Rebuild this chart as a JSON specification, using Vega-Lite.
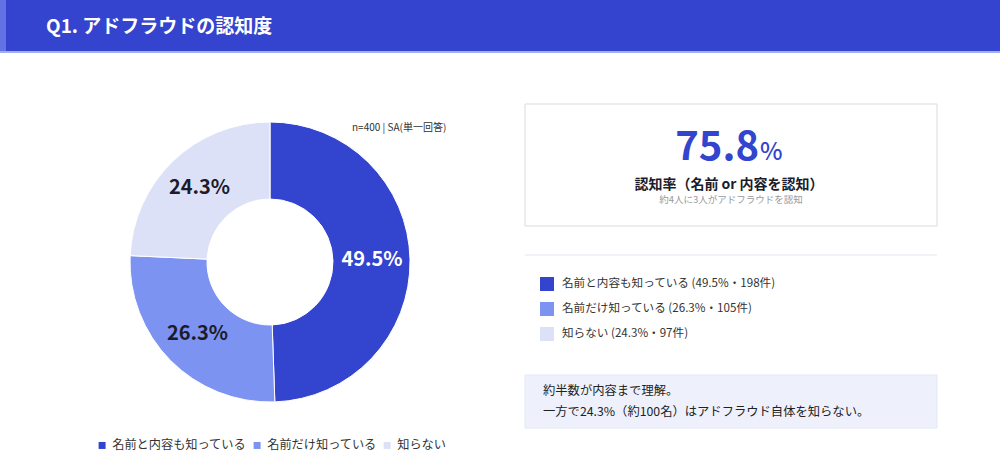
{
  "$schema": "https://vega.github.io/schema/vega-lite/v6.json",
  "width": 1000,
  "height": 452,
  "autosize": {"type": "fit", "contains": "padding"},
  "padding": 0,
  "background": "white",
  "config": {
    "view": {"stroke": null},
    "font": "Noto Sans CJK JP",
    "text": {"font": "Noto Sans CJK JP"}
  },
  "data": {
    "values": [
      {"category": "名前と内容も知っている", "pct": 0.495, "count": 198},
      {"category": "名前だけ知っている", "pct": 0.263, "count": 105},
      {"category": "知らない", "pct": 0.243, "count": 97}
    ]
  },
  "layer": [
    {
      "data": {"values": [{}]},
      "mark": {"type": "rect", "fill": "#3444CE"},
      "encoding": {
        "x": {"datum": 0, "scale": {"type": "linear", "domain": [0, 1000], "nice": false, "zero": false}, "axis": null},
        "x2": {"datum": 1000},
        "y": {"datum": 0, "scale": {"type": "linear", "domain": [0, 452], "nice": false, "zero": false, "reverse": true}, "axis": null},
        "y2": {"datum": 51}
      }
    },
    {
      "data": {"values": [{}]},
      "mark": {"type": "rect", "fill": "#6272E4"},
      "encoding": {
        "x": {"datum": 0, "scale": {"type": "linear", "domain": [0, 1000], "nice": false, "zero": false}, "axis": null},
        "x2": {"datum": 6},
        "y": {"datum": 0, "scale": {"type": "linear", "domain": [0, 452], "nice": false, "zero": false, "reverse": true}, "axis": null},
        "y2": {"datum": 51}
      }
    },
    {
      "data": {"values": [{}]},
      "mark": {"type": "rect", "fill": "#A3AEF0"},
      "encoding": {
        "x": {"datum": 0, "scale": {"type": "linear", "domain": [0, 1000], "nice": false, "zero": false}, "axis": null},
        "x2": {"datum": 1000},
        "y": {"datum": 51, "scale": {"type": "linear", "domain": [0, 452], "nice": false, "zero": false, "reverse": true}, "axis": null},
        "y2": {"datum": 53}
      }
    },
    {
      "data": {"values": [{"t": "Q1. アドフラウドの認知度"}]},
      "mark": {"type": "text", "align": "left", "baseline": "middle", "fontSize": 19, "fontWeight": "bold", "color": "white"},
      "encoding": {
        "x": {"datum": 46, "scale": {"type": "linear", "domain": [0, 1000], "nice": false, "zero": false}, "axis": null},
        "y": {"datum": 27, "scale": {"type": "linear", "domain": [0, 452], "nice": false, "zero": false, "reverse": true}, "axis": null},
        "text": {"field": "t"}
      }
    },
    {
      "data": {"values": [{"t": "n=400 | SA(単一回答)"}]},
      "mark": {"type": "text", "align": "left", "baseline": "middle", "fontSize": 10, "color": "#333333"},
      "encoding": {
        "x": {"datum": 352, "scale": {"type": "linear", "domain": [0, 1000], "nice": false, "zero": false}, "axis": null},
        "y": {"datum": 128, "scale": {"type": "linear", "domain": [0, 452], "nice": false, "zero": false, "reverse": true}, "axis": null},
        "text": {"field": "t"}
      }
    },
    {
      "mark": {"type": "arc", "innerRadius": 63, "outerRadius": 140, "stroke": "white", "strokeWidth": 1},
      "encoding": {
        "x": {"datum": 270, "scale": {"type": "linear", "domain": [0, 1000], "nice": false, "zero": false}, "axis": null},
        "y": {"datum": 262, "scale": {"type": "linear", "domain": [0, 452], "nice": false, "zero": false, "reverse": true}, "axis": null},
        "theta": {"field": "pct", "type": "quantitative", "stack": true},
        "order": {"field": "count", "sort": "descending"},
        "color": {
          "field": "category",
          "type": "nominal",
          "sort": ["名前と内容も知っている", "名前だけ知っている", "知らない"],
          "scale": {"domain": ["名前と内容も知っている", "名前だけ知っている", "知らない"], "range": ["#3344CE", "#7C93F2", "#DDE1F7"]},
          "legend": {
            "orient": "none",
            "legendX": 96,
            "legendY": 439,
            "direction": "horizontal",
            "title": null,
            "symbolType": "square",
            "symbolSize": 49,
            "symbolStrokeWidth": 0,
            "symbolOpacity": 1,
            "labelFont": "Noto Sans CJK JP",
            "labelFontSize": 12.2,
            "labelColor": "#333333",
            "labelOffset": 4,
            "columnPadding": 4,
            "labelLimit": 400,
            "padding": 0
          }
        }
      }
    },
    {
      "mark": {"type": "text", "radius": 102, "fontSize": 20, "fontWeight": "bold", "align": "center", "baseline": "middle"},
      "encoding": {
        "x": {"datum": 270, "scale": {"type": "linear", "domain": [0, 1000], "nice": false, "zero": false}, "axis": null},
        "y": {"datum": 262, "scale": {"type": "linear", "domain": [0, 452], "nice": false, "zero": false, "reverse": true}, "axis": null},
        "theta": {"field": "pct", "type": "quantitative", "stack": true},
        "order": {"field": "count", "sort": "descending"},
        "text": {"field": "pct", "type": "quantitative", "format": ".1%"},
        "color": {"condition": {"test": "datum.category === '名前と内容も知っている'", "value": "white"}, "value": "#1B1B2B"}
      }
    },
    {
      "data": {"values": [{}]},
      "mark": {"type": "rect", "fill": "white", "stroke": "#DADBE2", "strokeWidth": 1},
      "encoding": {
        "x": {"datum": 525, "scale": {"type": "linear", "domain": [0, 1000], "nice": false, "zero": false}, "axis": null},
        "x2": {"datum": 937},
        "y": {"datum": 104, "scale": {"type": "linear", "domain": [0, 452], "nice": false, "zero": false, "reverse": true}, "axis": null},
        "y2": {"datum": 226}
      }
    },
    {
      "data": {"values": [{"t": "75.8"}]},
      "mark": {"type": "text", "align": "right", "baseline": "alphabetic", "fontSize": 40, "fontWeight": "bold", "color": "#3344CE"},
      "encoding": {
        "x": {"datum": 759, "scale": {"type": "linear", "domain": [0, 1000], "nice": false, "zero": false}, "axis": null},
        "y": {"datum": 160, "scale": {"type": "linear", "domain": [0, 452], "nice": false, "zero": false, "reverse": true}, "axis": null},
        "text": {"field": "t"}
      }
    },
    {
      "data": {"values": [{"t": "%"}]},
      "mark": {"type": "text", "align": "left", "baseline": "alphabetic", "fontSize": 24, "fontWeight": 500, "color": "#3344CE"},
      "encoding": {
        "x": {"datum": 760, "scale": {"type": "linear", "domain": [0, 1000], "nice": false, "zero": false}, "axis": null},
        "y": {"datum": 160, "scale": {"type": "linear", "domain": [0, 452], "nice": false, "zero": false, "reverse": true}, "axis": null},
        "text": {"field": "t"}
      }
    },
    {
      "data": {"values": [{"t": "認知率（名前 or 内容を認知）"}]},
      "mark": {"type": "text", "align": "center", "baseline": "middle", "fontSize": 14, "fontWeight": "bold", "color": "#1B1B2B"},
      "encoding": {
        "x": {"datum": 729, "scale": {"type": "linear", "domain": [0, 1000], "nice": false, "zero": false}, "axis": null},
        "y": {"datum": 185, "scale": {"type": "linear", "domain": [0, 452], "nice": false, "zero": false, "reverse": true}, "axis": null},
        "text": {"field": "t"}
      }
    },
    {
      "data": {"values": [{"t": "約4人に3人がアドフラウドを認知"}]},
      "mark": {"type": "text", "align": "center", "baseline": "middle", "fontSize": 9.5, "color": "#999999"},
      "encoding": {
        "x": {"datum": 731, "scale": {"type": "linear", "domain": [0, 1000], "nice": false, "zero": false}, "axis": null},
        "y": {"datum": 200, "scale": {"type": "linear", "domain": [0, 452], "nice": false, "zero": false, "reverse": true}, "axis": null},
        "text": {"field": "t"}
      }
    },
    {
      "data": {"values": [{}]},
      "mark": {"type": "rule", "stroke": "#E3E6F3", "strokeWidth": 1},
      "encoding": {
        "x": {"datum": 525, "scale": {"type": "linear", "domain": [0, 1000], "nice": false, "zero": false}, "axis": null},
        "x2": {"datum": 937},
        "y": {"datum": 255, "scale": {"type": "linear", "domain": [0, 452], "nice": false, "zero": false, "reverse": true}, "axis": null}
      }
    },
    {
      "transform": [{"filter": "datum.category === '名前と内容も知っている'"}, {"calculate": "datum.category + ' (' + format(datum.pct, '.1%') + '・' + datum.count + '件)'", "as": "label"}],
      "layer": [
        {
          "mark": {"type": "square", "size": 196, "filled": true, "opacity": 1},
          "encoding": {
            "x": {"datum": 547, "scale": {"type": "linear", "domain": [0, 1000], "nice": false, "zero": false}, "axis": null},
            "y": {"datum": 284, "scale": {"type": "linear", "domain": [0, 452], "nice": false, "zero": false, "reverse": true}, "axis": null},
            "color": {"field": "category", "type": "nominal"}
          }
        },
        {
          "mark": {"type": "text", "align": "left", "baseline": "middle", "fontSize": 11.6, "color": "#333333"},
          "encoding": {
            "x": {"datum": 562, "scale": {"type": "linear", "domain": [0, 1000], "nice": false, "zero": false}, "axis": null},
            "y": {"datum": 284, "scale": {"type": "linear", "domain": [0, 452], "nice": false, "zero": false, "reverse": true}, "axis": null},
            "text": {"field": "label"}
          }
        }
      ]
    },
    {
      "transform": [{"filter": "datum.category === '名前だけ知っている'"}, {"calculate": "datum.category + ' (' + format(datum.pct, '.1%') + '・' + datum.count + '件)'", "as": "label"}],
      "layer": [
        {
          "mark": {"type": "square", "size": 196, "filled": true, "opacity": 1},
          "encoding": {
            "x": {"datum": 547, "scale": {"type": "linear", "domain": [0, 1000], "nice": false, "zero": false}, "axis": null},
            "y": {"datum": 309, "scale": {"type": "linear", "domain": [0, 452], "nice": false, "zero": false, "reverse": true}, "axis": null},
            "color": {"field": "category", "type": "nominal"}
          }
        },
        {
          "mark": {"type": "text", "align": "left", "baseline": "middle", "fontSize": 11.6, "color": "#333333"},
          "encoding": {
            "x": {"datum": 562, "scale": {"type": "linear", "domain": [0, 1000], "nice": false, "zero": false}, "axis": null},
            "y": {"datum": 309, "scale": {"type": "linear", "domain": [0, 452], "nice": false, "zero": false, "reverse": true}, "axis": null},
            "text": {"field": "label"}
          }
        }
      ]
    },
    {
      "transform": [{"filter": "datum.category === '知らない'"}, {"calculate": "datum.category + ' (' + format(datum.pct, '.1%') + '・' + datum.count + '件)'", "as": "label"}],
      "layer": [
        {
          "mark": {"type": "square", "size": 196, "filled": true, "opacity": 1},
          "encoding": {
            "x": {"datum": 547, "scale": {"type": "linear", "domain": [0, 1000], "nice": false, "zero": false}, "axis": null},
            "y": {"datum": 334, "scale": {"type": "linear", "domain": [0, 452], "nice": false, "zero": false, "reverse": true}, "axis": null},
            "color": {"field": "category", "type": "nominal"}
          }
        },
        {
          "mark": {"type": "text", "align": "left", "baseline": "middle", "fontSize": 11.6, "color": "#333333"},
          "encoding": {
            "x": {"datum": 562, "scale": {"type": "linear", "domain": [0, 1000], "nice": false, "zero": false}, "axis": null},
            "y": {"datum": 334, "scale": {"type": "linear", "domain": [0, 452], "nice": false, "zero": false, "reverse": true}, "axis": null},
            "text": {"field": "label"}
          }
        }
      ]
    },
    {
      "data": {"values": [{}]},
      "mark": {"type": "rect", "fill": "#EEF1FC", "stroke": "#E3E7F7", "strokeWidth": 1},
      "encoding": {
        "x": {"datum": 525, "scale": {"type": "linear", "domain": [0, 1000], "nice": false, "zero": false}, "axis": null},
        "x2": {"datum": 937},
        "y": {"datum": 375, "scale": {"type": "linear", "domain": [0, 452], "nice": false, "zero": false, "reverse": true}, "axis": null},
        "y2": {"datum": 428}
      }
    },
    {
      "data": {"values": [{"t": "約半数が内容まで理解。"}]},
      "mark": {"type": "text", "align": "left", "baseline": "middle", "fontSize": 12.3, "color": "#222222"},
      "encoding": {
        "x": {"datum": 543, "scale": {"type": "linear", "domain": [0, 1000], "nice": false, "zero": false}, "axis": null},
        "y": {"datum": 391, "scale": {"type": "linear", "domain": [0, 452], "nice": false, "zero": false, "reverse": true}, "axis": null},
        "text": {"field": "t"}
      }
    },
    {
      "data": {"values": [{"t": "一方で24.3%（約100名）はアドフラウド自体を知らない。"}]},
      "mark": {"type": "text", "align": "left", "baseline": "middle", "fontSize": 12.3, "color": "#222222"},
      "encoding": {
        "x": {"datum": 543, "scale": {"type": "linear", "domain": [0, 1000], "nice": false, "zero": false}, "axis": null},
        "y": {"datum": 412, "scale": {"type": "linear", "domain": [0, 452], "nice": false, "zero": false, "reverse": true}, "axis": null},
        "text": {"field": "t"}
      }
    }
  ]
}
